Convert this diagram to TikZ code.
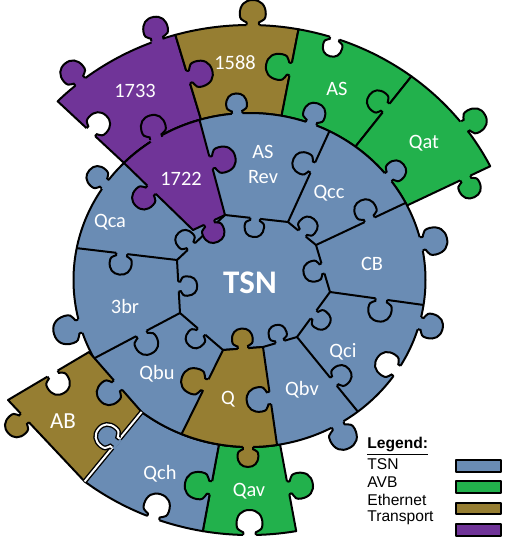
\documentclass[tikz,border=0pt]{standalone}
\usepackage{fontspec}
\setmainfont{Carlito}
\newfontfamily\legendfont{Liberation Sans}
\usetikzlibrary{calc}
\definecolor{tsnblue}{RGB}{106,140,180}
\definecolor{avbgreen}{RGB}{34,177,76}
\definecolor{ethbrown}{RGB}{150,126,50}
\definecolor{trpurple}{RGB}{112,52,152}
\tikzset{
  piece/.style = {
      draw=black,
      line width=1pt,
      line join=round,
    },
  tsn/.style = {piece, fill=tsnblue},
  avb/.style = {piece, fill=avbgreen},
  eth/.style = {piece, fill=ethbrown},
  trans/.style = {piece, fill=trpurple},
  seam/.style = {
      draw=black,
      line width=1pt,
      line join=round,
    },
  gap/.style = {
      double=white,
      double distance=1pt,
      line width=.7pt,
    },
  ring/.style = {x radius=176, y radius=167},
  rim/.style = {x radius=269, y radius=255},
  knob line/.style = {},
  knob/.pic = {
      \fill[pic actions] (-3,-6.5) -- (0,-6.5) .. controls (6,-4) and (1,-13) .. (11,-13)
        .. controls (20,-13) and (25,-8) .. (25,0) .. controls (25,8) and (20,13) .. (11,13)
        .. controls (1,13) and (6,4) .. (0,6.5) -- (-3,6.5) -- cycle;
      \draw[line width=1pt, fill=none, knob line] (0,-6.5) .. controls (6,-4) and (1,-13) .. (11,-13)
        .. controls (20,-13) and (25,-8) .. (25,0) .. controls (25,8) and (20,13) .. (11,13)
        .. controls (1,13) and (6,4) .. (0,6.5);
    },
  lbl/.style = {
      text=white,
      inner sep=0pt,
      font=\fontsize{10.2}{12.5}\selectfont,
    },
  key/.style = {
      anchor=west,
      inner sep=0pt,
      font=\legendfont\fontsize{7.8}{9}\selectfont,
    },
  swatch/.style = {piece, line width=1.1pt},
}

\begin{document}
\begin{tikzpicture}[x=.5pt, y=-.5pt]
    \useasboundingbox (0,0) rectangle (508,542);
    \coordinate (C) at (249.5,280);

    % corners of the centre piece
    \coordinate (J1) at (225,215);
    \coordinate (J2) at (288,222);
    \coordinate (J3) at (316,245);
    \coordinate (J4) at (330,292);
    \coordinate (J5) at (297,337);
    \coordinate (J6) at (263,347);
    \coordinate (J7) at (223,350);
    \coordinate (J8) at (180,313);
    \coordinate (J9) at (177,260);
    \coordinate (t1722) at (193,230);

    % points on the disc and on the outer rim
    \coordinate (r80) at ($(C)+(80:176 and 167)$);    \coordinate (o80) at ($(C)+(80:269 and 255)$);
    \coordinate (r100) at ($(C)+(100:176 and 167)$);  \coordinate (o100) at ($(C)+(100:269 and 255)$);
    \coordinate (r224) at ($(C)+(224.5:176 and 167)$); \coordinate (o224) at ($(C)+(224.5:269 and 255)$);
    \coordinate (r254) at ($(C)+(254:176 and 167)$);  \coordinate (o254) at ($(C)+(254:269 and 255)$);
    \coordinate (r280) at ($(C)+(280.5:176 and 167)$); \coordinate (o280) at ($(C)+(280.5:269 and 255)$);
    \coordinate (r307) at ($(C)+(307:176 and 167)$);  \coordinate (o307) at ($(C)+(307:269 and 255)$);
    \coordinate (r333) at ($(C)+(333.5:176 and 167)$); \coordinate (o333) at ($(C)+(333.5:269 and 255)$);
    \coordinate (r297) at ($(C)+(297:176 and 167)$);
    \coordinate (r332) at ($(C)+(332.5:176 and 167)$);
    \coordinate (r8) at ($(C)+(8.6:176 and 167)$);
    \coordinate (r52) at ($(C)+(52:176 and 167)$);
    \coordinate (r81) at ($(C)+(81:176 and 167)$);
    \coordinate (r112) at ($(C)+(112.7:176 and 167)$);
    \coordinate (r152) at ($(C)+(152:176 and 167)$);
    \coordinate (r191) at ($(C)+(191:176 and 167)$);
    \coordinate (r253) at ($(C)+(253.5:176 and 167)$);

    % AB corners
    \coordinate (ab1) at (89,352);
    \coordinate (ab2) at ($(C)+(127.8:176 and 167)$);
    \coordinate (ab3) at ($(C)+(127.8:269 and 255)$);
    \coordinate (ab4) at (8,400);

    % outer ring
    \draw[trans] (r224) arc[ring, start angle=224.5, end angle=254] -- (o254) arc[rim, start angle=254, end angle=224.5] -- cycle;
    \draw[eth] (r254) arc[ring, start angle=254, end angle=280.5] -- (o280) arc[rim, start angle=280.5, end angle=254] -- cycle;
    \draw[avb] (r280) arc[ring, start angle=280.5, end angle=307] -- (o307) arc[rim, start angle=307, end angle=280.5] -- cycle;
    \draw[avb] (r307) arc[ring, start angle=307, end angle=333.5] -- (o333) arc[rim, start angle=333.5, end angle=307] -- cycle;
    \draw[avb] (r80) arc[ring, start angle=80, end angle=100] -- (o100) arc[rim, start angle=100, end angle=80] -- cycle;
    \draw[tsn] (r100) arc[ring, start angle=100, end angle=127.8] -- (ab3) arc[rim, start angle=127.8, end angle=100] -- cycle;

    % disc and seams
    \draw[tsn] (C) ellipse[ring];
    \draw[seam] (J1) -- (J2) -- (J3) -- (J4) -- (J5) -- (J6) -- (J7) -- (J8) -- (J9) -- cycle;
    \draw[seam] (r297) -- (J2);
    \draw[seam] (r332) -- (J3);
    \draw[seam] (r8) -- (J4);
    \draw[seam] (r52) -- (J5);
    \draw[seam] (r152) -- (J8);
    \draw[seam] (r191) -- (J9);

    % coloured pieces of the disc, and AB
    \draw[trans] (r224) arc[ring, start angle=224.5, end angle=253.5] -- (J1) -- (t1722) -- cycle;
    \draw[eth] (J7) -- (J6) -- (r81) arc[ring, start angle=81, end angle=112.7] -- cycle;
    \draw[eth] (ab1) -- (ab2) -- (ab3) -- (ab4) -- cycle;
    \draw[gap] (ab2) -- (ab3);

    % knobs on the rim of the disc
    \pic[fill=tsnblue, rotate=94, scale=.8] at ($(C)+(266:176 and 167)$) {knob};
    \pic[fill=tsnblue, rotate=72, scale=.85] at ($(C)+(290.5:176 and 167)$) {knob};
    \pic[fill=tsnblue, rotate=40, scale=.8] at ($(C)+(322:176 and 167)$) {knob};
    \pic[fill=tsnblue, rotate=13, scale=1.05] at ($(C)+(347.5:176 and 167)$) {knob};
    \pic[fill=tsnblue, rotate=-15, scale=.95] at ($(C)+(15:176 and 167)$) {knob};
    \pic[fill=white, rotate=146, scale=.95] at ($(C)+(33:176 and 167)$) {knob};
    \pic[fill=tsnblue, rotate=-64, scale=1.05] at ($(C)+(60:176 and 167)$) {knob};
    \pic[fill=tsnblue, rotate=-163, scale=1.1] at ($(C)+(164:176 and 167)$) {knob};
    \pic[fill=tsnblue, rotate=138, scale=.85] at ($(C)+(215:176 and 167)$) {knob};
    \pic[fill=tsnblue, rotate=-138.8, scale=.95] at ($(ab1)!.55!(ab2)$) {knob};

    % knobs round the centre piece
    \pic[fill=tsnblue, rotate=-96.3, scale=.75] at ($(J1)!.48!(J2)$) {knob};
    \pic[fill=tsnblue, rotate=50.6, scale=.75] at ($(J2)!.5!(J3)$) {knob};
    \pic[fill=tsnblue, rotate=-163.4, scale=.8] at ($(J3)!.5!(J4)$) {knob};
    \pic[fill=tsnblue, rotate=-36.3, scale=.75] at ($(J4)!.5!(J5)$) {knob};
    \pic[fill=tsnblue, rotate=106.4, scale=.7] at ($(J5)!.5!(J6)$) {knob};
    \pic[fill=tsnblue, rotate=-130.7, scale=.75] at ($(J7)!.5!(J8)$) {knob};
    \pic[fill=tsnblue, rotate=3.2, scale=.75] at ($(J8)!.5!(J9)$) {knob};
    \pic[fill=tsnblue, rotate=133, scale=.75] at ($(J9)!.3!(J1)$) {knob};

    % knobs on the seams
    \pic[fill=tsnblue, rotate=155.5, scale=.85] at ($(r297)!.4!(J2)$) {knob};
    \pic[fill=tsnblue, rotate=115.2, scale=.85] at ($(r332)!.4!(J3)$) {knob};
    \pic[fill=tsnblue, rotate=-97.9, scale=.9] at ($(r8)!.45!(J4)$) {knob};
    \pic[fill=tsnblue, rotate=39.2, scale=.8] at ($(r52)!.4!(J5)$) {knob};
    \pic[fill=tsnblue, rotate=-62.1, scale=.9] at ($(r152)!.55!(J8)$) {knob};
    \pic[fill=tsnblue, rotate=-96.8, scale=.85] at ($(r191)!.45!(J9)$) {knob};

    % knobs of the coloured pieces
    \pic[fill=trpurple, rotate=105, scale=.95] at ($(C)+(238:176 and 167)$) {knob};
    \pic[fill=trpurple, rotate=15] at ($(r253)!.45!(J1)$) {knob};
    \pic[fill=trpurple, rotate=-134.2, scale=.9] at ($(t1722)!.6!(r224)$) {knob};
    \pic[fill=trpurple, rotate=-65, scale=.85] at ($(J1)!.5!(t1722)$) {knob};
    \pic[fill=ethbrown, rotate=94, scale=.8] at ($(J7)!.5!(J6)$) {knob};
    \pic[fill=tsnblue, rotate=-171.9, scale=.95] at ($(J6)!.52!(r81)$) {knob};
    \pic[fill=ethbrown, rotate=160] at ($(r112)!.58!(J7)$) {knob};
    \pic[fill=ethbrown, rotate=-90, scale=.8] at ($(C)+(90.5:176 and 167)$) {knob};
    \pic[fill=trpurple, rotate=16.8] at ($(r254)!.5!(o254)$) {knob};
    \pic[fill=white, rotate=47.1, scale=.9] at ($(o224)!.5!(r224)$) {knob};
    \pic[fill=trpurple, rotate=130, scale=.95] at ($(C)+(231:269 and 255)$) {knob};
    \pic[fill=trpurple, rotate=100, scale=.95] at ($(C)+(250:269 and 255)$) {knob};
    \pic[fill=ethbrown, rotate=90] at ($(C)+(270.7:269 and 255)$) {knob};
    \pic[fill=avbgreen, rotate=169] at ($(r280)!.54!(o280)$) {knob};
    \pic[fill=white, rotate=-105, scale=.75] at ($(C)+(288.5:269 and 255)$) {knob};
    \pic[fill=avbgreen, rotate=141.5, scale=.85] at ($(r307)!.55!(o307)$) {knob};
    \pic[fill=avbgreen, rotate=30, scale=.95] at ($(C)+(323:269 and 255)$) {knob};
    \pic[fill=avbgreen, rotate=-64.7, scale=.85] at ($(r333)!.7!(o333)$) {knob};
    \pic[fill=white, rotate=72] at ($(C)+(111:269 and 255)$) {knob};
    \pic[fill=tsnblue, knob line/.style=gap, rotate=140.6, scale=.9] at ($(ab2)!.45!(ab3)$) {knob};
    \pic[fill=avbgreen, rotate=169.5, scale=1.05] at ($(r100)!.5!(o100)$) {knob};
    \pic[fill=avbgreen, rotate=10.5] at ($(r80)!.5!(o80)$) {knob};
    \pic[fill=white, rotate=90] at ($(C)+(90:269 and 255)$) {knob};
    \pic[fill=white, rotate=-59.3, scale=.9] at ($(ab1)!.45!(ab4)$) {knob};
    \pic[fill=ethbrown, rotate=-136.9, scale=.9] at ($(ab4)!.22!(ab3)$) {knob};

    % labels
    \node[lbl] (l1733) at (135,91) {1733};
    \node[lbl] (l1588) at (235,63) {1588};
    \node[lbl] (l1722) at (181,179) {1722};
    \node[lbl] (lAS) at (337,89) {AS};
    \node[lbl] (lQat) at (424,143) {Qat};
    \node[lbl, align=center] (lASRev) at (263,164) {AS\\Rev};
    \node[lbl] (lQcc) at (329,193) {Qcc};
    \node[lbl] (lCB) at (372,264) {CB};
    \node[lbl] (lQca) at (110,222) {Qca};
    \node[lbl, font=\fontsize{16.5}{18}\selectfont\bfseries] (lTSN) at (250,283) {TSN};
    \node[lbl] (l3br) at (125,306) {3br};
    \node[lbl] (lQbu) at (157,374) {Qbu};
    \node[lbl] (lQ) at (228,399) {Q};
    \node[lbl] (lQbv) at (302,390) {Qbv};
    \node[lbl] (lQci) at (343,352) {Qci};
    \node[lbl, font=\fontsize{11.5}{13}\selectfont] (lAB) at (63,421) {AB};
    \node[lbl] (lQch) at (160,474) {Qch};
    \node[lbl] (lQav) at (249,491) {Qav};

    % legend
    \node[key, font=\legendfont\fontsize{7.8}{9}\selectfont\bfseries] (lgd) at (367,446) {\underline{Legend:}};
    \node[key] (kTSN) at (367,464) {TSN};
    \node[key] (kAVB) at (367,482) {AVB};
    \node[key] (kEth) at (367,500) {Ethernet};
    \node[key] (kTr) at (367,518) {Transport};
    \draw[swatch, fill=tsnblue] (456,460) rectangle (501,472);
    \draw[swatch, fill=avbgreen] (456,481) rectangle (501,493);
    \draw[swatch, fill=ethbrown] (456,503) rectangle (501,514);
    \draw[swatch, fill=trpurple] (456,524) rectangle (501,536);
\end{tikzpicture}
\end{document}
